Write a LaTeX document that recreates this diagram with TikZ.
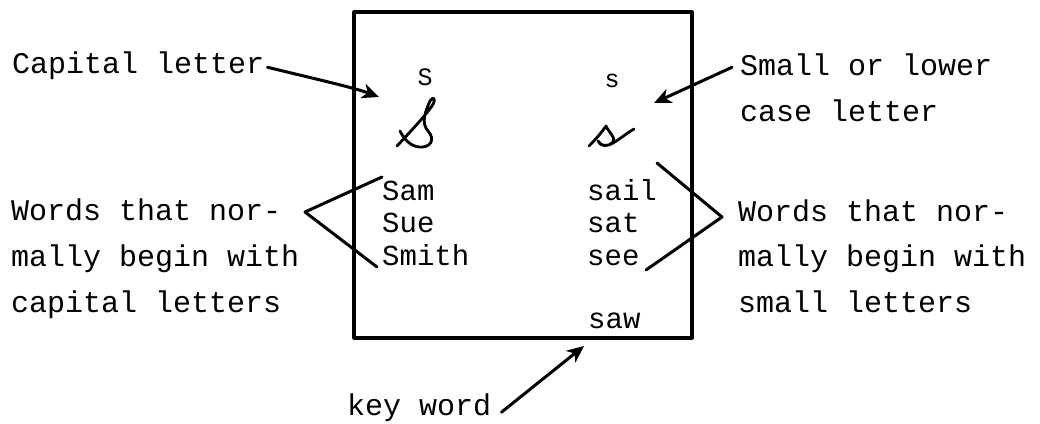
\documentclass[tikz,border=0pt]{standalone}
\usepackage{fontspec}
\newfontfamily\tw{Liberation Mono}
\usetikzlibrary{arrows.meta}
\begin{document}
\begin{tikzpicture}[x=1pt,y=-1pt,
  lbl/.style={font=\tw\fontsize{30}{30}\selectfont, inner sep=0pt, anchor=base west},
  wrd/.style={font=\tw\fontsize{29}{29}\selectfont, inner sep=0pt, anchor=base west},
  ltr/.style={font=\tw\fontsize{25}{25}\selectfont, inner sep=0pt, anchor=base},
  pen/.style={line width=3pt, line cap=round, line join=round},
  hand/.style={line width=2.8pt, line cap=round, line join=round},
  arr/.style={pen, -{Stealth[length=17pt,width=15pt,inset=5pt]}},
  frame/.style={line width=3.2pt, line join=round}]
\useasboundingbox (0,0) rectangle (1040,423);
% box
\draw[frame] (354,12) rectangle (692,338);
% outside labels
\node[lbl] (cap) at (12,73) {Capital letter};
\node[lbl] (sm1) at (740,75) {Small or lower};
\node[lbl] (sm2) at (740,121) {case letter};
\node[lbl] (wl1) at (11,220) {Words that nor-};
\node[lbl] (wl2) at (11,266) {mally begin with};
\node[lbl] (wl3) at (11,312) {capital letters};
\node[lbl] (wr1) at (738,221) {Words that nor-};
\node[lbl] (wr2) at (738,266) {mally begin with};
\node[lbl] (wr3) at (738,312) {small letters};
\node[lbl] (key) at (347,415) {key word};
% inside letters
\node[ltr] (capS) at (425,85) {S};
\node[ltr] (lowS) at (612,87) {s};
% inside words
\node[wrd] (sam) at (382,200) {Sam};
\node[wrd] (sue) at (382,232) {Sue};
\node[wrd] (smith) at (382,265) {Smith};
\node[wrd] (sail) at (587,200) {sail};
\node[wrd] (sat) at (587,232) {sat};
\node[wrd] (see) at (587,265) {see};
\node[wrd] (saw) at (588,328) {saw};
% handwritten capital S
\draw[hand] (397,146) .. controls (411,131) and (425,116) .. (432,106)
  .. controls (437,98) and (433,96) .. (430,101)
  .. controls (425,112) and (421,123) .. (428,131)
  .. controls (436,140) and (430,148) .. (419,147)
  .. controls (410,146) and (404,139) .. (400,131);
% handwritten small s
\draw[hand] (589,146) .. controls (596,139) and (602,132) .. (606,126)
  .. controls (609,133) and (616,137) .. (613,142)
  .. controls (609,147) and (601,147) .. (598,141)
  .. controls (600,146) and (606,147) .. (613,143)
  .. controls (620,139) and (627,133) .. (634,129);
% arrows
\coordinate (capT) at (379,97);
\coordinate (smT) at (654,103);
\coordinate (keyT) at (584,346);
\draw[arr] ([xshift=3pt,yshift=-2pt]cap.east) .. controls (320,80) and (355,88) .. (capT);
\draw[arr] ([xshift=-8pt,yshift=-3pt]sm1.west) -- (smT);
\draw[arr] ([xshift=10pt,yshift=-5pt]key.east) -- (keyT);
% brackets
\coordinate (la) at (382,177);
\coordinate (lx) at (305,212);
\coordinate (lb) at (377,267);
\coordinate (ra) at (657,163);
\coordinate (rx) at (722,217);
\coordinate (rb) at (646,270);
\draw[pen] (la) -- (lx) -- (lb);
\draw[pen] (ra) -- (rx) -- (rb);
\end{tikzpicture}
\end{document}
